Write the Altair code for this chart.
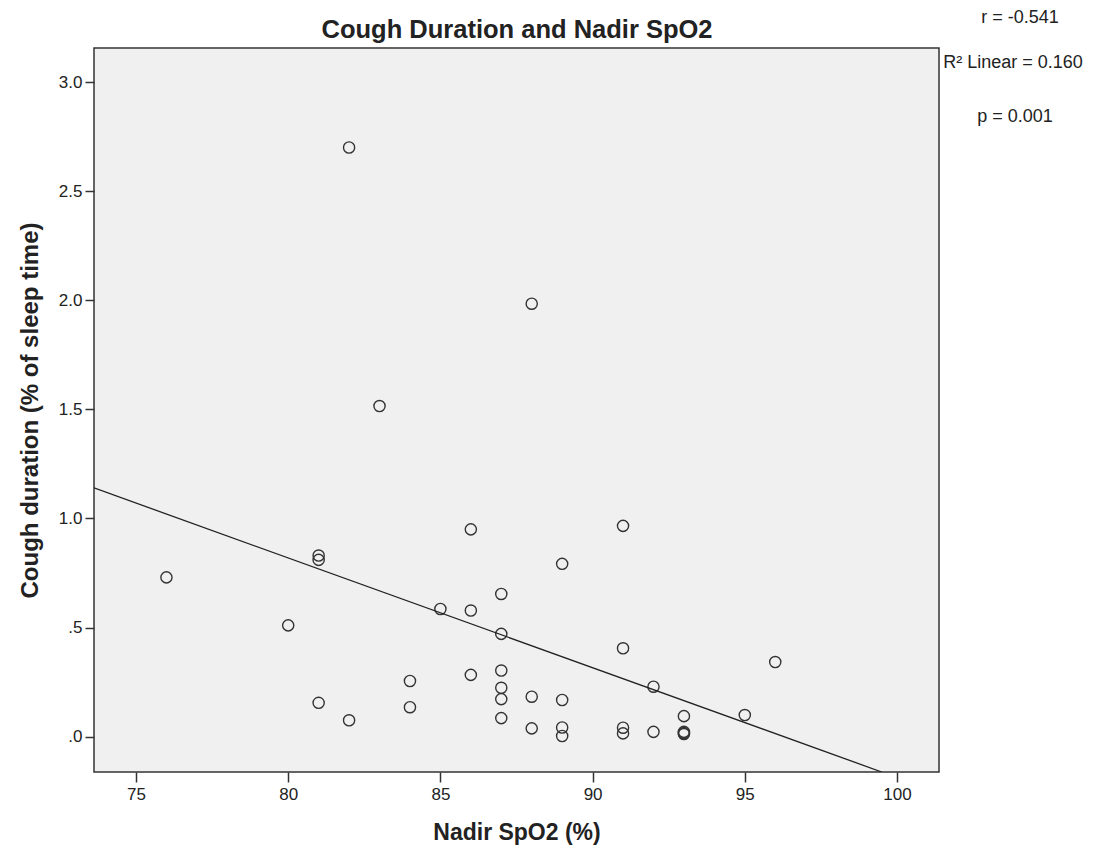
import altair as alt
import pandas as pd

# Nadir SpO2 (%) for each subject
spo2 = [76, 80, 81, 81, 81, 82, 82, 83, 84, 84, 85, 86, 86, 86,
        87, 87, 87, 87, 87, 87, 88, 88, 88, 89, 89, 89, 89,
        91, 91, 91, 91, 92, 92, 93, 93, 93, 93, 95, 96]
# Cough duration (% of sleep time)
cough = [0.73, 0.51, 0.83, 0.81, 0.155, 2.70, 0.075, 1.515, 0.255, 0.135, 0.585, 0.95, 0.578, 0.283,
         0.654, 0.471, 0.303, 0.224, 0.172, 0.085, 1.984, 0.183, 0.038, 0.792, 0.168, 0.042, 0.003,
         0.966, 0.405, 0.041, 0.015, 0.229, 0.022, 0.094, 0.022, 0.016, 0.012, 0.099, 0.342]

# Linear fit line
fit_x = [73.62, 99.5]
fit_y = [1.14, -0.162]

x_ticks = [75, 80, 85, 90, 95, 100]
y_ticks = [0.0, 0.5, 1.0, 1.5, 2.0, 2.5, 3.0]
x_domain = [73.62, 101.38]
y_domain = [-0.162, 3.156]

title_text = "Cough Duration and Nadir SpO2"
stats = ["r = -0.541", "R\u00b2 Linear = 0.160", "p = 0.001"]

FONT = "Liberation Sans"
INK = "#222222"

pts = pd.DataFrame({"spo2": spo2, "cough": cough})
fit = pd.DataFrame({"spo2": fit_x, "cough": fit_y})

xscale = alt.Scale(domain=x_domain, nice=False, zero=False)
yscale = alt.Scale(domain=y_domain, nice=False, zero=False)

xaxis = alt.Axis(values=x_ticks, title="Nadir SpO2 (%)", grid=False, domain=False,
                 tickSize=10, tickColor="#333333", tickWidth=1.5,
                 labelFont=FONT, labelFontSize=17, labelColor=INK, labelPadding=4,
                 titleFont=FONT, titleFontSize=23, titleFontWeight="bold", titleColor=INK,
                 titlePadding=19)
yaxis = alt.Axis(values=y_ticks, title="Cough duration (% of sleep time)", grid=False, domain=False,
                 tickSize=9, tickColor="#333333", tickWidth=1.5,
                 labelFont=FONT, labelFontSize=17, labelColor=INK, labelPadding=3,
                 labelExpr="datum.value < 1 ? slice(format(datum.value, '.1f'), 1) : format(datum.value, '.1f')",
                 titleFont=FONT, titleFontSize=24, titleFontWeight="bold", titleColor=INK,
                 titlePadding=16)

points = alt.Chart(pts).mark_point(shape="circle", filled=False, size=125,
                                   stroke="#333333", strokeWidth=1.4, opacity=1).encode(
    x=alt.X("spo2:Q", scale=xscale, axis=xaxis),
    y=alt.Y("cough:Q", scale=yscale, axis=yaxis),
)

line = alt.Chart(fit).mark_line(color=INK, strokeWidth=1.3, clip=True).encode(
    x=alt.X("spo2:Q", scale=xscale),
    y=alt.Y("cough:Q", scale=yscale),
)

title = alt.Chart(pd.DataFrame({"label": [title_text]})).mark_text(
    font=FONT, fontSize=25.5, fontWeight="bold", color=INK, align="center", baseline="alphabetic"
).encode(text="label:N", x=alt.value(423), y=alt.value(-10))

ann_x = [926, 919, 921]
ann_y = [-30, 15, 69]
anns = []
for k, s in enumerate(stats):
    anns.append(
        alt.Chart(pd.DataFrame({"label": [s]})).mark_text(
            font=FONT, fontSize=18, color=INK, align="center", baseline="middle"
        ).encode(text="label:N", x=alt.value(ann_x[k]), y=alt.value(ann_y[k]))
    )

chart = alt.layer(points, line, title, *anns).properties(
    width=845, height=724,
    padding={"left": 86, "top": 40, "right": 148, "bottom": 74},
    autosize=alt.AutoSizeParams(type="none"),
).configure(
    background="white",
    view=alt.ViewConfig(fill="#F0F0F0", stroke="#333333", strokeWidth=1.5),
)

chart.save("out.html", embed_options={"renderer": "svg", "actions": False})
